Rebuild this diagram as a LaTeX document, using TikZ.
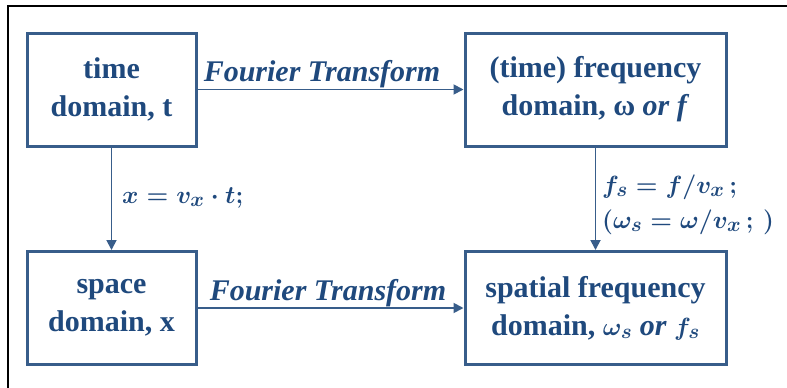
\documentclass[tikz,border=0pt]{standalone}
\usepackage{fontspec}
\setmainfont{Liberation Serif}
\usetikzlibrary{arrows.meta}
\definecolor{txt}{HTML}{1F497D}
\definecolor{ln}{HTML}{385D8A}
\begin{document}
\begin{tikzpicture}[x=1pt,y=-1pt,
  box/.style={draw=ln,line width=3pt,text=txt,font=\bfseries\boldmath\fontsize{30}{38}\selectfont,
    align=center,inner sep=0pt,minimum height=113pt},
  conn/.style={draw=ln,line width=1.8pt,-{Triangle[length=10pt,width=10pt]}},
  lbl/.style={text=txt,inner sep=0pt,font=\bfseries\itshape\boldmath\fontsize{30}{34}\selectfont},
  mlbl/.style={text=txt,inner sep=0pt,font=\bfseries\boldmath\fontsize{29}{34}\selectfont},
  frame/.style={draw=black,line width=2.5pt}]
\useasboundingbox (0,0) rectangle (787,388);
\coordinate (f0) at (8,6);
\coordinate (f1) at (787,6);
\coordinate (f2) at (8,388);
\draw[frame] (f1) -- (f0) -- (f2);
\node[box,minimum width=169pt] (time) at (111.5,89.5) {time\\domain, t};
\node[box,minimum width=261pt] (freq) at (595.5,89.5) {(time) frequency\\domain, ω \textit{or f}};
\node[box,minimum width=169pt] (space) at (111.5,308) {space\\domain, x};
\node[box,minimum width=261pt] (spat) at (595.5,308) {spatial frequency\\domain, $\omega_s$ \textit{or} $f_s$};
\draw[conn] (time) -- (freq);
\draw[conn] (space) -- (spat);
\draw[conn] (time) -- (space);
\draw[conn] (freq) -- (spat);
\node[lbl,anchor=base] (ft1) at (322,81) {Fourier Transform};
\node[lbl,anchor=base] (ft2) at (328,300) {Fourier Transform};
\node[mlbl,anchor=base west] (eq1) at (122,203) {$x=v_x\cdot t;$};
\node[mlbl,anchor=base west] (eq2) at (602,193) {$f_s=f/v_x\,;$};
\node[mlbl,anchor=base west] (eq3) at (602,228) {$(\omega_s=\omega/v_x\,;\,)$};
\end{tikzpicture}
\end{document}
